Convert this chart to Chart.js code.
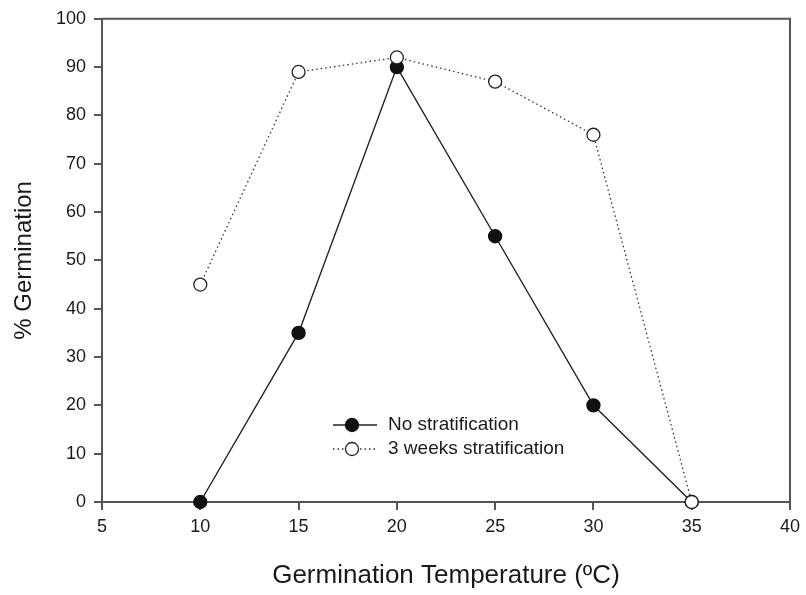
<!DOCTYPE html>
<html>
<head>
<meta charset="utf-8">
<script src="https://cdn.jsdelivr.net/npm/chart.js@4"></script>
<style>
  html, body { margin: 0; padding: 0; background: #fff; }
  #wrap { width: 806px; height: 595px; }
</style>
</head>
<body>
<div id="wrap"><canvas id="germ" width="806" height="595"></canvas></div>
<script>
// data
const temps = [10, 15, 20, 25, 30, 35];
const noStrat = [0, 35, 90, 55, 20, 0];
const threeWeeks = [45, 89, 92, 87, 76, 0];
const seriesNames = ['No stratification', '3 weeks stratification'];
const xTicks = [5, 10, 15, 20, 25, 30, 35, 40];
const yTicks = [0, 10, 20, 30, 40, 50, 60, 70, 80, 90, 100];

const axisColor = '#555';
const ink = '#1a1a1a';
const font = "'Liberation Sans', Arial, sans-serif";

function toPoints(vals) {
  return temps.map((t, i) => ({ x: t, y: vals[i] }));
}

// frame on top/right plus a legend inside the plot
const framePlugin = {
  id: 'frame',
  afterDraw(chart) {
    const { ctx, chartArea: a } = chart;
    ctx.save();
    ctx.strokeStyle = axisColor;
    ctx.lineWidth = 2;
    ctx.beginPath();
    ctx.moveTo(a.left, a.top);
    ctx.lineTo(a.right, a.top);
    ctx.lineTo(a.right, a.bottom);
    ctx.stroke();

    // legend
    const lx = 333, ly = [425, 449];
    chart.data.datasets.forEach((ds, i) => {
      const y = ly[i];
      ctx.strokeStyle = ds.borderColor;
      ctx.lineWidth = ds.borderWidth;
      ctx.setLineDash(ds.borderDash || []);
      ctx.beginPath();
      ctx.moveTo(lx, y);
      ctx.lineTo(lx + 44, y);
      ctx.stroke();
      ctx.setLineDash([]);
      ctx.beginPath();
      ctx.arc(lx + 19, y, 6.5, 0, Math.PI * 2);
      ctx.fillStyle = ds.pointBackgroundColor;
      ctx.fill();
      ctx.lineWidth = 1.3;
      ctx.strokeStyle = ds.pointBorderColor;
      ctx.stroke();
      ctx.fillStyle = ink;
      ctx.font = '19px ' + font;
      ctx.textBaseline = 'middle';
      ctx.fillText(ds.label, lx + 55, y);
    });
    ctx.restore();
  }
};

new Chart(document.getElementById('germ'), {
  type: 'scatter',
  data: {
    datasets: [{
      label: seriesNames[0],
      data: toPoints(noStrat),
      showLine: true,
      order: 1,
      borderColor: '#222',
      borderWidth: 1.4,
      pointRadius: 6.5,
      pointHoverRadius: 6.5,
      pointBackgroundColor: '#111',
      pointBorderColor: '#111',
      clip: false
    }, {
      label: seriesNames[1],
      data: toPoints(threeWeeks),
      showLine: true,
      order: 0,
      borderColor: '#333',
      borderWidth: 1.3,
      borderDash: [1.5, 3],
      pointRadius: 6.5,
      pointHoverRadius: 6.5,
      pointBackgroundColor: '#fff',
      pointBorderColor: '#222',
      pointBorderWidth: 1.3,
      clip: false
    }]
  },
  options: {
    responsive: false,
    animation: false,
    layout: { padding: { top: 16, right: 13, left: 0, bottom: 0 } },
    plugins: { legend: { display: false }, tooltip: { enabled: false } },
    scales: {
      x: {
        type: 'linear',
        min: 5, max: 40,
        afterBuildTicks: s => { s.ticks = xTicks.map(v => ({ value: v })); },
        afterFit: s => { s.height = 93; },
        grid: { drawOnChartArea: false, drawTicks: true, tickLength: 8, color: axisColor, lineWidth: 2 },
        border: { display: true, color: axisColor, width: 2 },
        ticks: { color: ink, font: { size: 18, family: font }, padding: 6 },
        title: {
          display: true,
          text: 'Germination Temperature (ºC)',
          color: ink,
          font: { size: 26, family: font },
          padding: { top: 17 }
        }
      },
      y: {
        min: 0, max: 100,
        afterBuildTicks: s => { s.ticks = yTicks.map(v => ({ value: v })); },
        afterFit: s => { s.width = 102; },
        grid: { drawOnChartArea: false, drawTicks: true, tickLength: 8, color: axisColor, lineWidth: 2 },
        border: { display: true, color: axisColor, width: 2 },
        ticks: { color: ink, font: { size: 18, family: font }, padding: 8 },
        title: {
          display: true,
          text: '% Germination',
          color: ink,
          font: { size: 24, family: font },
          padding: { top: 10, bottom: 0 }
        }
      }
    }
  },
  plugins: [framePlugin]
});
</script>
</body>
</html>
